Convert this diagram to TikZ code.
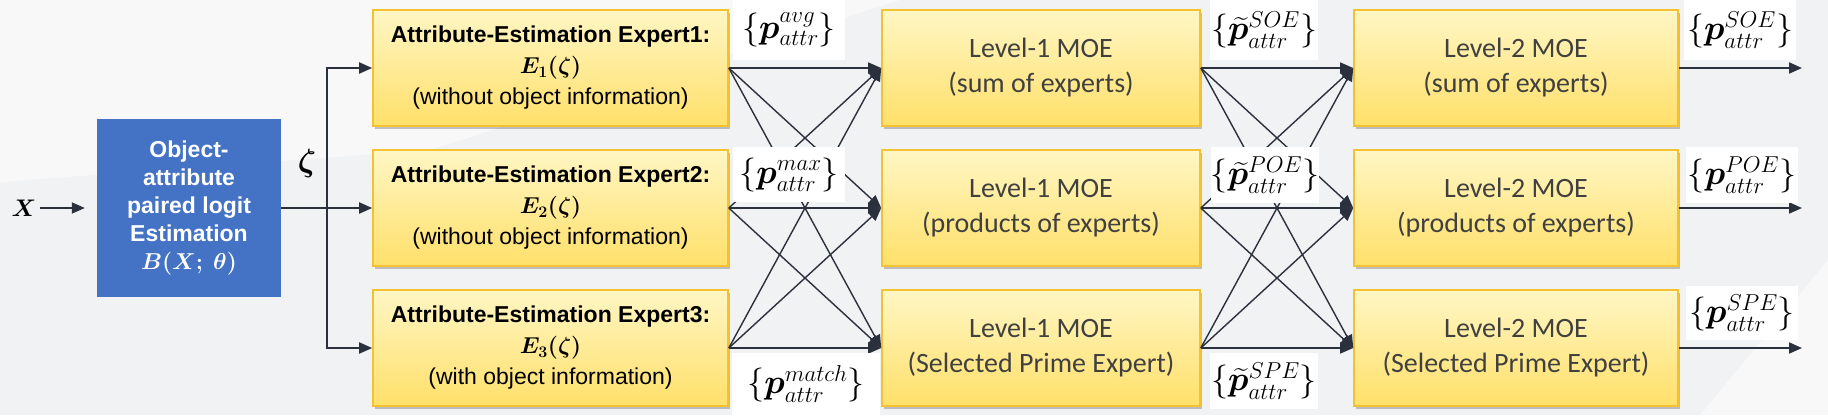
\RequirePackage{fix-cm}
\documentclass[tikz,border=0pt]{standalone}
\usepackage{amsmath,bm}
\usepackage{fontspec}
\newfontfamily\arialf{Liberation Sans}
\newfontfamily\calf{Carlito}
\usetikzlibrary{arrows.meta,shadows}
\DeclareMathSizes{34}{34}{23}{16}
\definecolor{bgc}{HTML}{F1F2F4}
\definecolor{bglight}{HTML}{F8F8F9}
\definecolor{ytop}{HTML}{FFF6C4}
\definecolor{ybot}{HTML}{FFE06A}
\definecolor{yborder}{HTML}{F2C232}
\definecolor{bluec}{HTML}{4472C4}
\definecolor{lc}{HTML}{2A313D}
\definecolor{moetext}{HTML}{404040}
\begin{document}
\begin{tikzpicture}[x=1pt,y=-1pt,
  ybox/.style={draw=yborder, line width=1.6pt, top color=ytop, bottom color=ybot,
    minimum height=116pt, inner sep=0pt, align=center,
    drop shadow={shadow xshift=2pt,shadow yshift=-3pt,opacity=0.22,fill=black}},
  expbox/.style={ybox, minimum width=355pt, font=\arialf\fontsize{23}{31}\selectfont},
  moebox/.style={ybox, font=\calf\fontsize{28}{35}\selectfont, text=moetext},
  lvla/.style={moebox, minimum width=318pt},
  lvlb/.style={moebox, minimum width=324pt},
  arr/.style={draw=lc, line width=1.8pt, -{Triangle[length=13pt,width=11pt]}},
  xarr/.style={draw=lc, line width=1.4pt, -{Triangle[length=13pt,width=11pt]}},
  plain/.style={draw=lc, line width=1.8pt},
  lbl/.style={fill=white, inner sep=0pt, font=\fontsize{34}{38}\selectfont}]
\useasboundingbox (0,0) rectangle (1828,415);
\fill[bgc] (0,0) rectangle (1828,415);
\fill[bglight] (0,0) -- (900,0) -- (430,150) -- (0,182) -- cycle;
\fill[bglight] (1700,415) -- (1828,260) -- (1828,415) -- cycle;

% blue box
\node[fill=bluec, minimum width=184pt, minimum height=178pt, inner sep=0pt, align=center,
  text=white, font=\arialf\bfseries\fontsize{23}{28}\selectfont] (blue) at (189,208)
  {Object-\\attribute\\paired logit\\Estimation\\$\bm{B}\bm{(}\bm{X}\bm{;}\ \bm{\theta}\bm{)}$};
\node (xin) at (24,208) {\fontsize{24}{28}\selectfont$\bm{X}$};
\node (zeta) at (307,163) {\fontsize{32}{36}\selectfont$\bm{\zeta}$};

% experts
\node[expbox] (E1) at (550.5,68) {\textbf{Attribute-Estimation Expert1:}\\$\bm{E_1(\zeta)}$\\(without object information)};
\node[expbox] (E2) at (550.5,208) {\textbf{Attribute-Estimation Expert2:}\\$\bm{E_2(\zeta)}$\\(without object information)};
\node[expbox] (E3) at (550.5,348) {\textbf{Attribute-Estimation Expert3:}\\$\bm{E_3(\zeta)}$\\(with object information)};

% level 1
\node[lvla] (La) at (1041,68) {Level-1 MOE\\(sum of experts)};
\node[lvla] (Lb) at (1041,208) {Level-1 MOE\\(products of experts)};
\node[lvla] (Lc) at (1041,348) {Level-1 MOE\\(Selected Prime Expert)};

% level 2
\node[lvlb] (Ma) at (1516,68) {Level-2 MOE\\(sum of experts)};
\node[lvlb] (Mb) at (1516,208) {Level-2 MOE\\(products of experts)};
\node[lvlb] (Mc) at (1516,348) {Level-2 MOE\\(Selected Prime Expert)};

% input connectors
\draw[arr, shorten >=12pt] (xin.east) -- (blue.west);
\coordinate (split) at (327,208);
\draw[plain] (blue.east) -- (split);
\draw[arr] (split) -- (E2.west);
\draw[arr] (split) |- (E1.west);
\draw[arr] (split) |- (E3.west);

% cross connectors
\foreach \s in {E1,E2,E3}{
  \foreach \t in {La,Lb,Lc}{
    \draw[xarr] (\s.east) -- (\t.west);
  }
}
\foreach \s in {La,Lb,Lc}{
  \foreach \t in {Ma,Mb,Mc}{
    \draw[xarr] (\s.east) -- (\t.west);
  }
}

% outputs
\coordinate (oa) at (1802,68);
\coordinate (ob) at (1802,208);
\coordinate (oc) at (1802,348);
\draw[arr] (Ma.east) -- (oa);
\draw[arr] (Mb.east) -- (ob);
\draw[arr] (Mc.east) -- (oc);

% labels
\node[lbl, minimum width=112pt, minimum height=60pt] (lavg) at (789,30) {$\{\bm{p}^{avg}_{attr}\}$};
\node[lbl, minimum width=112pt, minimum height=55pt] (lmax) at (789,174.5) {$\{\bm{p}^{max}_{attr}\}$};
\node[lbl, minimum width=148pt, minimum height=62pt] (lmatch) at (806,384) {$\{\bm{p}^{match}_{attr}\}$};
\node[lbl, minimum width=108pt, minimum height=60pt] (tsoe) at (1264,30) {$\{\widetilde{\bm{p}}^{SOE}_{attr}\}$};
\node[lbl, minimum width=108pt, minimum height=56pt] (tpoe) at (1265,175) {$\{\widetilde{\bm{p}}^{POE}_{attr}\}$};
\node[lbl, minimum width=108pt, minimum height=56pt] (tspe) at (1264,381) {$\{\widetilde{\bm{p}}^{SPE}_{attr}\}$};
\node[lbl, minimum width=112pt, minimum height=60pt] (osoe) at (1740,30) {$\{\bm{p}^{SOE}_{attr}\}$};
\node[lbl, minimum width=112pt, minimum height=56pt] (opoe) at (1742,175) {$\{\bm{p}^{POE}_{attr}\}$};
\node[lbl, minimum width=112pt, minimum height=54pt] (ospe) at (1742,313) {$\{\bm{p}^{SPE}_{attr}\}$};
\end{tikzpicture}
\end{document}
